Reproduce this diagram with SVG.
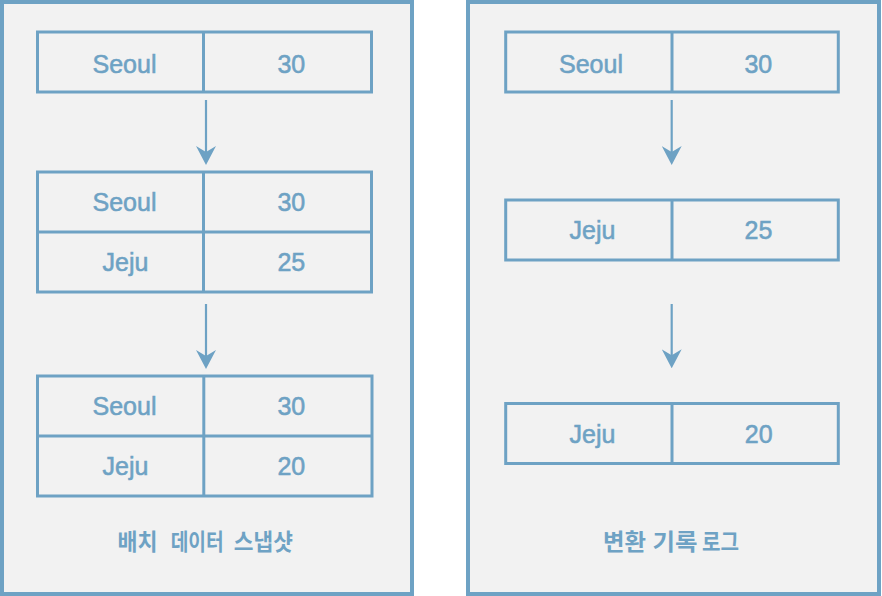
<svg xmlns="http://www.w3.org/2000/svg" width="882" height="596" viewBox="0 0 882 596">
<style>
.panel{fill:#f2f2f2;stroke:#6ea2c4;stroke-width:4}
.tb{fill:none;stroke:#6ea2c4;stroke-width:3}
.cell{font-family:"Liberation Sans",Arial,sans-serif;font-size:25px;fill:#6ea2c4;stroke:#6ea2c4;stroke-width:0.55;text-anchor:middle}
.title{font-family:"Noto Sans CJK KR","Noto Sans",sans-serif;font-size:23px;font-weight:bold;fill:#6ea2c4;text-anchor:middle}
.conn{stroke:#6ea2c4;stroke-width:2.2;fill:none}
</style>
<defs>
<marker id="ah" markerUnits="userSpaceOnUse" viewBox="0 0 19 20" refX="12" refY="10" markerWidth="19" markerHeight="20" orient="auto">
<path d="M0,0 L19,10 L0,20 L6,10 Z" fill="#6ea2c4"/>
</marker>
</defs>
<rect width="882" height="596" fill="#ffffff"/>
<g id="panel-batch">
<rect class="panel" x="2" y="2" width="410" height="592"/>
<text class="title" y="550"><tspan x="137.5" textLength="40" lengthAdjust="spacingAndGlyphs">배치</tspan><tspan x="197.2" textLength="53" lengthAdjust="spacingAndGlyphs">데이터</tspan><tspan x="263.3" textLength="59" lengthAdjust="spacingAndGlyphs">스냅샷</tspan></text>
</g>
<g id="panel-log">
<rect class="panel" x="468" y="2" width="411" height="592"/>
<text class="title" y="550"><tspan x="624.5" textLength="43" lengthAdjust="spacingAndGlyphs">변환</tspan><tspan x="675" textLength="45" lengthAdjust="spacingAndGlyphs">기록</tspan><tspan x="720.5" textLength="37" lengthAdjust="spacingAndGlyphs">로그</tspan></text>
</g>
<g id="batch-1">
<rect class="tb" x="37.5" y="32" width="334" height="60"/>
<line class="tb" x1="203.5" y1="32" x2="203.5" y2="92"/>
<text class="cell" x="124.5" y="72.5">Seoul</text>
<text class="cell" x="291.3" y="72.5">30</text>
</g>
<g id="batch-2">
<rect class="tb" x="37.5" y="172" width="334" height="120"/>
<line class="tb" x1="37.5" y1="232" x2="371.5" y2="232"/>
<line class="tb" x1="203.5" y1="172" x2="203.5" y2="292"/>
<text class="cell" x="124.5" y="211">Seoul</text>
<text class="cell" x="291.3" y="211">30</text>
<text class="cell" x="125.5" y="271">Jeju</text>
<text class="cell" x="291.3" y="271">25</text>
</g>
<g id="batch-3">
<rect class="tb" x="37.5" y="376" width="334.5" height="120"/>
<line class="tb" x1="37.5" y1="436" x2="372" y2="436"/>
<line class="tb" x1="203.8" y1="376" x2="203.8" y2="496"/>
<text class="cell" x="124.5" y="415">Seoul</text>
<text class="cell" x="291.3" y="415">30</text>
<text class="cell" x="125.5" y="474.5">Jeju</text>
<text class="cell" x="291.3" y="474.5">20</text>
</g>
<g id="log-1">
<rect class="tb" x="505.7" y="32" width="332.6" height="60"/>
<line class="tb" x1="672" y1="32" x2="672" y2="92"/>
<text class="cell" x="591" y="72.5">Seoul</text>
<text class="cell" x="758.3" y="72.5">30</text>
</g>
<g id="log-2">
<rect class="tb" x="505.7" y="200" width="332.6" height="60"/>
<line class="tb" x1="672" y1="200" x2="672" y2="260"/>
<text class="cell" x="592.5" y="238.5">Jeju</text>
<text class="cell" x="758.5" y="238.5">25</text>
</g>
<g id="log-3">
<rect class="tb" x="505.7" y="403.5" width="332.6" height="60"/>
<line class="tb" x1="672" y1="403.5" x2="672" y2="463.5"/>
<text class="cell" x="592.5" y="442.5">Jeju</text>
<text class="cell" x="758.7" y="442.5">20</text>
</g>
<g id="connectors">
<line class="conn" x1="206" y1="100" x2="206" y2="158" marker-end="url(#ah)"/>
<line class="conn" x1="206" y1="304" x2="206" y2="362" marker-end="url(#ah)"/>
<line class="conn" x1="671.7" y1="100" x2="671.7" y2="158" marker-end="url(#ah)"/>
<line class="conn" x1="671.7" y1="304" x2="671.7" y2="361.3" marker-end="url(#ah)"/>
</g>
</svg>
